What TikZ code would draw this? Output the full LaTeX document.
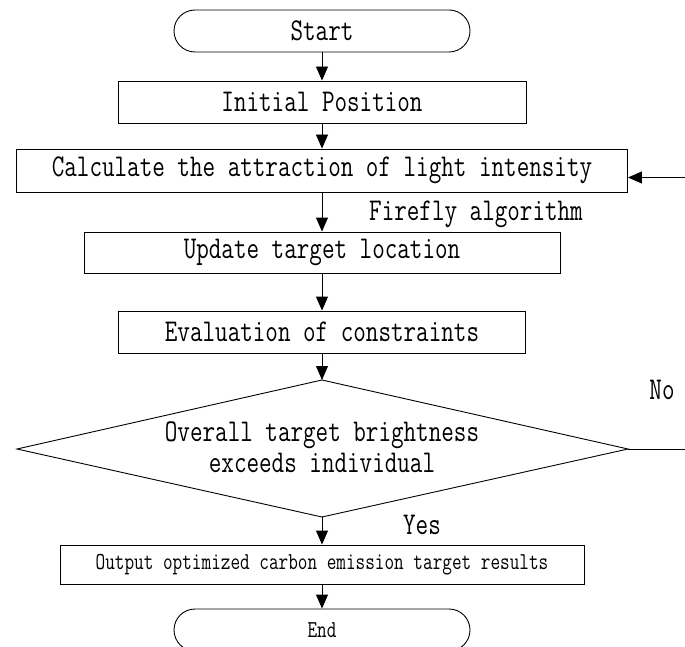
\documentclass[tikz,border=0pt]{standalone}
\usepackage{fontspec}
\usepackage{graphicx}
\usetikzlibrary{arrows.meta}
\newcommand\bigtx[1]{\scalebox{1}[1.3]{\fontsize{24.4}{27}\ttfamily #1}}
\newcommand\smtx[1]{\scalebox{1}[1.3]{\fontsize{18.7}{21}\ttfamily #1}}
\begin{document}
\begin{tikzpicture}[x=1pt,y=-1pt,
  box/.style={draw, line width=0.9pt, inner sep=0pt, minimum height=42pt},
  term/.style={box, rounded corners=21pt, minimum width=296pt},
  arr/.style={line width=0.9pt, -{Triangle[length=14pt,width=12pt]}},
  lbl/.style={inner sep=0pt}]
\useasboundingbox (0,0) rectangle (685,647);
\clip (0,0) rectangle (685,647);
\node[term] (start) at (322,31) {\bigtx{Start}};
\node[box, minimum width=408pt] (init) at (322,102) {\bigtx{Initial Position}};
\node[box, minimum width=611pt, minimum height=43pt] (calc) at (322,170.5) {\bigtx{Calculate the attraction of light intensity}};
\node[lbl] (ff) at (476,214) {\bigtx{Firefly algorithm}};
\node[box, minimum width=476pt, minimum height=41pt] (upd) at (322,252.5) {\bigtx{Update target location}};
\node[box, minimum width=407pt] (eval) at (322,332) {\bigtx{Evaluation of constraints}};
% decision diamond
\coordinate (dtop) at (322,380);
\coordinate (dleft) at (17,449);
\coordinate (dright) at (628,449);
\coordinate (dbot) at (322,517);
\draw[line width=0.9pt] (dtop) -- (dright) -- (dbot) -- (dleft) -- cycle;
\node[lbl] (dec1) at (322,435) {\bigtx{Overall target brightness}};
\node[lbl] (dec2) at (322,463) {\bigtx{exceeds individual}};
\node[lbl] (yes) at (422,525) {\bigtx{Yes}};
\node[lbl] (no) at (662,390) {\bigtx{No}};
\node[box, minimum width=524pt, minimum height=39pt] (out) at (322,564.5) {\smtx{Output optimized carbon emission target results}};
\node[term] (end) at (322,630) {\smtx{End}};
\coordinate (lp) at (700,449);
\draw[arr] (start) -- (init);
\draw[arr] (init) -- (calc);
\draw[arr] (calc) -- (upd);
\draw[arr] (upd) -- (eval);
\draw[arr] (eval) -- (dtop);
\draw[arr] (dbot) -- (out);
\draw[arr] (out) -- (end);
\draw[arr] (dright) -- (lp) |- ([yshift=-7pt]calc.east);
\end{tikzpicture}
\end{document}
